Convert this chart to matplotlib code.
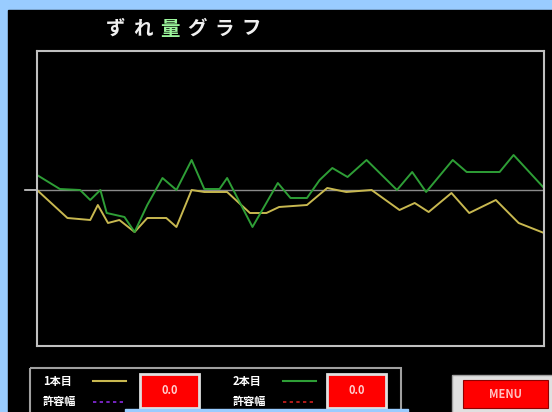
import matplotlib
matplotlib.use("Agg")
import matplotlib.pyplot as plt
from matplotlib.patches import Rectangle

plt.rcParams['font.family'] = ['Noto Sans CJK JP', 'DejaVu Sans']

# ずれ量 (x: 測定位置, y: ずれ量)
line1_x = [0.0, 2.4, 4.2, 4.8, 5.6, 6.5, 7.7, 8.7, 10.2, 11.0, 12.2, 13.2, 15.0,
           16.8, 18.1, 19.1, 21.3, 22.9, 24.4, 26.4, 28.6, 29.8, 30.9, 32.7,
           34.1, 36.2, 38.0, 40.0]
line1_y = [0.0, -2.8, -3.0, -1.5, -3.3, -3.0, -4.2, -2.8, -2.8, -3.7, 0.0, -0.2,
           -0.2, -2.3, -2.3, -1.7, -1.5, 0.2, -0.2, 0.0, -2.0, -1.3, -2.2, -0.3,
           -2.3, -1.0, -3.3, -4.3]

line2_x = [0.0, 1.8, 3.4, 4.2, 5.0, 5.5, 6.9, 7.7, 8.7, 9.9, 11.0, 12.2, 13.2,
           14.4, 15.0, 17.0, 19.0, 20.0, 21.3, 22.3, 23.3, 24.5, 26.0, 28.4,
           29.6, 30.7, 32.8, 33.9, 36.5, 37.6, 40.0]
line2_y = [1.5, 0.1, 0.0, -1.0, 0.0, -2.3, -2.7, -4.2, -1.5, 1.2, 0.0, 3.0, 0.1,
           0.1, 1.2, -3.7, 0.7, -0.8, -0.8, 1.0, 2.2, 1.3, 3.0, 0.0, 1.8, -0.2,
           3.0, 1.8, 1.8, 3.5, 0.2]

title_chars = list("ずれ量グラフ")
legend_names = ["1本目", "2本目"]
tol_name = "許容幅"
value_texts = ["0.0", "0.0"]
menu_text = "MENU"

W, H = 552, 412
BLUE = "#99ccff"
YELLOW = "#c8b850"
GREEN = "#2e9e36"


def main():
    fig = plt.figure(figsize=(W / 100, H / 100), dpi=100, facecolor=BLUE)

    # 画面全体 (pixel座標)
    bg = fig.add_axes([0, 0, 1, 1])
    bg.set_xlim(0, W)
    bg.set_ylim(H, 0)
    bg.axis("off")
    bg.add_patch(Rectangle((8, 10), W - 8, H - 10, color="black"))

    for i, ch in enumerate(title_chars):
        col = "#9cf59c" if ch == "量" else "#f0f0f0"
        bg.text(116 + i * 27, 29, ch, color=col, fontsize=14, fontweight="bold",
                ha="center", va="center")

    # 左のゼロ目盛
    bg.plot([25, 37], [190, 190], color="#d0d0d0", lw=1.2)

    # 凡例枠
    bg.add_patch(Rectangle((30, 368), 371, 50, fill=False, ec="#a0a0a0", lw=1.5))
    for k, x0 in enumerate([43, 233]):
        bg.text(x0, 381, legend_names[k], color="white", fontsize=8, va="center",
                fontweight="bold")
        bg.text(x0, 401, tol_name, color="white", fontsize=8, va="center",
                fontweight="bold")
        lc = YELLOW if k == 0 else GREEN
        tc = "#8a2be2" if k == 0 else "#d02020"
        bg.plot([x0 + 50, x0 + 83], [381, 381], color=lc, lw=1.5)
        bg.plot([x0 + 50, x0 + 83], [402, 402], color=tc, lw=1.2, ls=(0, (2, 2)))
        bx = 140 if k == 0 else 327
        bg.add_patch(Rectangle((bx, 374), 59, 34, fc="#ff0000", ec="#e0e0e0", lw=2))
        bg.text(bx + 29.5, 391, value_texts[k], color="#ffd0d0", fontsize=8,
                ha="center", va="center", fontweight="bold")

    bg.add_patch(Rectangle((125, 409), 283, 3, color=BLUE))

    # MENUボタン
    bg.add_patch(Rectangle((452, 375), 110, 40, fc="#e0e0e0", ec="#a0a0a0", lw=1))
    bg.add_patch(Rectangle((463, 380), 85, 28, fc="#ff0000", ec="#900000", lw=0.8))
    bg.text(505, 394, menu_text, color="#ffc0c0", fontsize=8, ha="center",
            va="center", fontweight="bold")

    # グラフ本体
    ax = fig.add_axes([37 / W, (H - 346) / H, 507 / W, 295 / H])
    ax.set_facecolor("black")
    ax.set_xlim(0, 40)
    ax.set_ylim(-15.6, 13.9)
    ax.set_xticks([])
    ax.set_yticks([])
    for s in ax.spines.values():
        s.set_color("#c0c0c0")
        s.set_linewidth(1.5)

    ax.axhline(0, color="#8a8a8a", lw=1)
    ax.plot(line1_x, line1_y, color=YELLOW, lw=1.4)
    ax.plot(line2_x, line2_y, color=GREEN, lw=1.4)

    fig.savefig("out.png", dpi=100, facecolor=BLUE)


if __name__ == "__main__":
    main()
